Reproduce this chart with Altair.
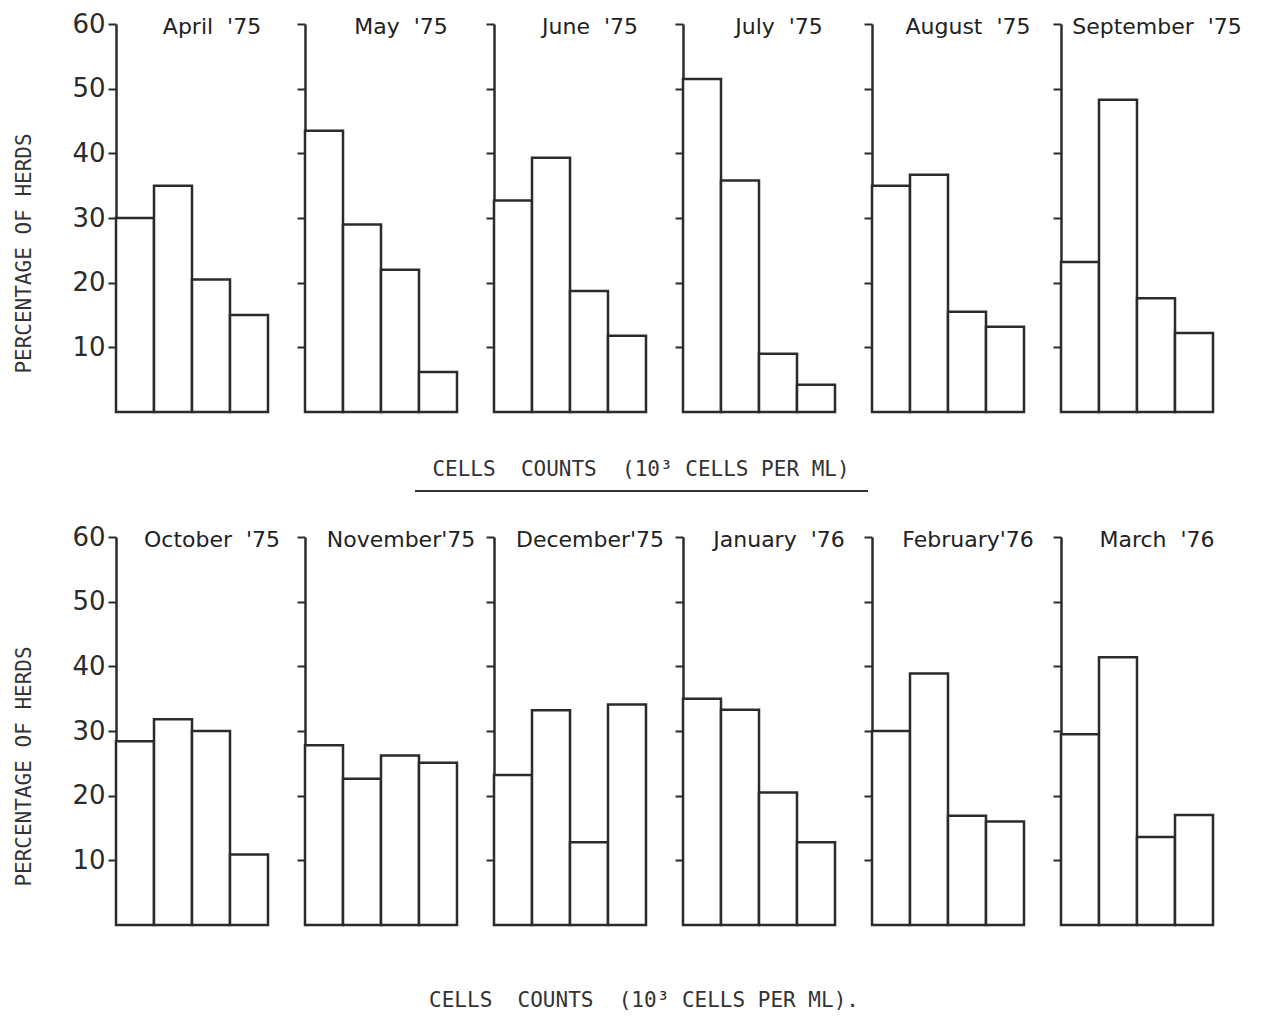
import altair as alt
import pandas as pd

# ---- data ----
months = ["April '75", "May '75", "June '75", "July '75", "August '75", "September '75",
          "October '75", "November'75", "December'75", "January '76", "February'76", "March '76"]
classes = ["Class 1", "Class 2", "Class 3", "Class 4"]

april = [30.0, 35.0, 20.5, 15.0]
may = [43.5, 29.0, 22.0, 6.2]
june = [32.7, 39.3, 18.7, 11.8]
july = [51.5, 35.8, 9.0, 4.2]
august = [35.0, 36.7, 15.5, 13.2]
september = [23.2, 48.3, 17.6, 12.2]
october = [28.4, 31.8, 30.0, 10.9]
november = [27.8, 22.6, 26.2, 25.1]
december = [23.2, 33.2, 12.8, 34.1]
january = [35.0, 33.3, 20.5, 12.8]
february = [30.0, 38.9, 16.9, 16.0]
march = [29.5, 41.4, 13.6, 17.0]
series = [april, may, june, july, august, september,
          october, november, december, january, february, march]

y_ticks = [10, 20, 30, 40, 50, 60]
y_title = "PERCENTAGE OF HERDS"
x_titles = ["CELLS  COUNTS  (10\u00b3 CELLS PER ML)", "CELLS  COUNTS  (10\u00b3 CELLS PER ML)."]

INK = "#2b2b2b"
W, H = 152, 388


def nb(s, wide=False):
    return s.replace(" ", "\u00a0\u00a0" if wide else "\u00a0")


def panel(i):
    df = pd.DataFrame({"cls": classes, "pct": series[i]})
    first = (i % 6 == 0)
    ax = dict(values=y_ticks, tickSize=8, tickWidth=2, tickColor=INK,
              domainColor=INK, domainWidth=2.5, grid=False, labels=first)
    if first:
        ax.update(title=y_title, titleFont="DejaVu Sans Mono", titleFontSize=21,
                  titleFontWeight="normal", titleColor="#333333", titlePadding=37,
                  titleY=229, labelFont="DejaVu Sans", labelFontSize=26,
                  labelColor=INK, labelPadding=3)
    else:
        ax.update(title="")
    bars = alt.Chart(df).mark_bar(fill="white", stroke=INK, strokeWidth=2.5).encode(
        x=alt.X("cls:N", sort=classes, axis=None,
                scale=alt.Scale(paddingInner=0, paddingOuter=0)),
        y=alt.Y("pct:Q", scale=alt.Scale(domain=[0, 60], nice=False), axis=alt.Axis(**ax)),
    )
    ttl = alt.Chart(pd.DataFrame({"t": [nb(months[i], True)]})).mark_text(
        font="DejaVu Sans", fontSize=22, color="#222222", align="center", baseline="middle"
    ).encode(text="t:N", x=alt.value(96), y=alt.value(3))
    layers = [bars, ttl]
    if i == 2:
        lab = alt.Chart(pd.DataFrame({"t": [nb(x_titles[0])]})).mark_text(
            font="DejaVu Sans Mono", fontSize=21, color="#333333", align="center", baseline="middle"
        ).encode(text="t:N", x=alt.value(147), y=alt.value(446))
        rule = alt.Chart(pd.DataFrame({"t": [0]})).mark_rule(color="#333333", strokeWidth=2).encode(
            x=alt.value(-79), x2=alt.value(374), y=alt.value(467))
        layers += [lab, rule]
    if i == 8:
        lab = alt.Chart(pd.DataFrame({"t": [nb(x_titles[1])]})).mark_text(
            font="DejaVu Sans Mono", fontSize=21, color="#333333", align="center", baseline="middle"
        ).encode(text="t:N", x=alt.value(150), y=alt.value(464))
        layers += [lab]
    return alt.layer(*layers).properties(width=W, height=H)


chart = alt.concat(*[panel(i) for i in range(12)], columns=6,
                   spacing={"row": 125, "column": 37}, bounds="flush").properties(
    padding={"left": 5, "top": 3, "right": 5, "bottom": 5}, background="white"
).configure_view(stroke="transparent", strokeWidth=0)

chart.save("out.html", embed_options={"renderer": "svg", "actions": False})
